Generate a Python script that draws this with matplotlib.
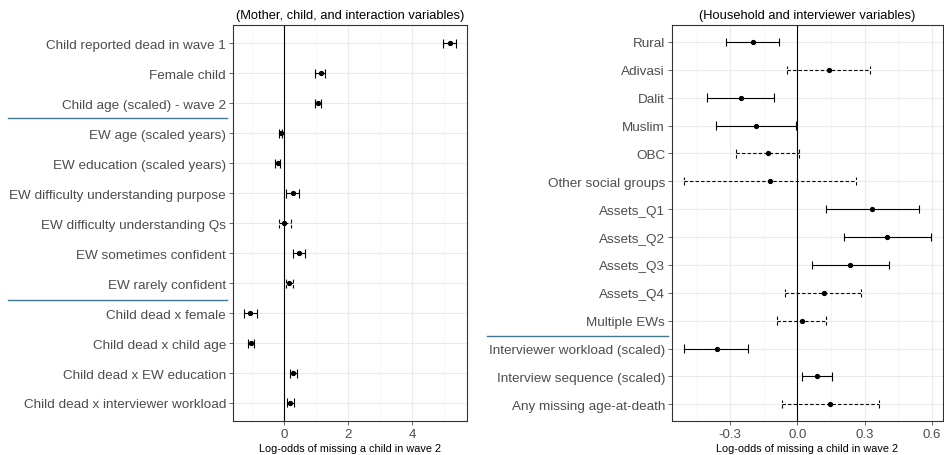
import numpy as np
import matplotlib.pyplot as plt
from matplotlib.lines import Line2D

plt.rcParams['font.family'] = ['Liberation Sans', 'DejaVu Sans']

# left panel: mother, child and interaction variables
left_labels = ['Child reported dead in wave 1', 'Female child', 'Child age (scaled) - wave 2',
               'EW age (scaled years)', 'EW education (scaled years)',
               'EW difficulty understanding purpose', 'EW difficulty understanding Qs',
               'EW sometimes confident', 'EW rarely confident',
               'Child dead x female', 'Child dead x child age',
               'Child dead x EW education', 'Child dead x interviewer workload']
left_est = [5.19, 1.15, 1.05, -0.10, -0.20, 0.27, 0.00, 0.48, 0.15, -1.07, -1.03, 0.27, 0.19]
left_lo = [4.96, 0.97, 0.95, -0.17, -0.27, 0.06, -0.15, 0.27, 0.06, -1.26, -1.14, 0.18, 0.08]
left_hi = [5.37, 1.29, 1.15, -0.06, -0.12, 0.48, 0.21, 0.66, 0.29, -0.85, -0.94, 0.39, 0.30]
left_sig = [1, 1, 1, 1, 1, 1, 0, 1, 0, 1, 1, 1, 1]

# right panel: household and interviewer variables
right_labels = ['Rural', 'Adivasi', 'Dalit', 'Muslim', 'OBC', 'Other social groups',
                'Assets_Q1', 'Assets_Q2', 'Assets_Q3', 'Assets_Q4', 'Multiple EWs',
                'Interviewer workload (scaled)', 'Interview sequence (scaled)',
                'Any missing age-at-death']
right_est = [-0.200, 0.141, -0.253, -0.186, -0.133, -0.121, 0.335, 0.400, 0.233, 0.117,
             0.019, -0.360, 0.089, 0.147]
right_lo = [-0.317, -0.045, -0.403, -0.363, -0.274, -0.506, 0.129, 0.210, 0.063, -0.054,
            -0.089, -0.505, 0.022, -0.069]
right_hi = [-0.083, 0.326, -0.103, -0.005, 0.006, 0.263, 0.543, 0.597, 0.409, 0.286,
            0.129, -0.220, 0.156, 0.364]
right_sig = [1, 0, 1, 1, 0, 0, 1, 1, 1, 0, 0, 1, 1, 0]


def draw_panel(ax, labels, est, lo, hi, sig, title, major, minor, xlim):
    n = len(labels)
    y = np.arange(n)[::-1]
    ax.set_xticks(major)
    ax.set_xticks(minor, minor=True)
    ax.set_yticks(y)
    ax.set_yticklabels(labels, fontsize=9.7, color='#4D4D4D')
    ax.grid(True, which='major', color='#EBEBEB', linewidth=0.8)
    ax.grid(True, which='minor', axis='x', color='#F2F2F2', linewidth=0.5)
    ax.set_axisbelow(True)
    ax.axvline(0, color='black', linewidth=0.8)
    for i in range(n):
        ls = '-' if sig[i] else (0, (3, 2))
        ax.hlines(y[i], lo[i], hi[i], color='black', linewidth=0.8, linestyles=ls)
        ax.vlines([lo[i], hi[i]], y[i] - 0.15, y[i] + 0.15, color='black',
                  linewidth=0.8, linestyles=ls)
    ax.plot(est, y, 'o', color='black', markersize=2.8)
    ax.set_xlim(*xlim)
    ax.set_ylim(-0.6, n - 1 + 0.6)
    ax.set_title(title, fontsize=9.3, pad=5)
    ax.set_xlabel('Log-odds of missing a child in wave 2', fontsize=7.8, labelpad=2)
    ax.tick_params(axis='x', labelsize=9.5, colors='#4D4D4D', length=3, width=0.6, pad=2)
    ax.tick_params(axis='x', which='minor', length=0)
    ax.tick_params(axis='y', length=3, width=0.6, color='#4D4D4D', pad=2)
    for s in ax.spines.values():
        s.set_color('#333333')
        s.set_linewidth(0.8)


fig = plt.figure(figsize=(9.44, 4.56), dpi=100)
ax1 = fig.add_axes([0.2468, 0.0746, 0.2479, 0.868])
ax2 = fig.add_axes([0.7119, 0.0746, 0.2870, 0.868])

draw_panel(ax1, left_labels, left_est, left_lo, left_hi, left_sig,
           '(Mother, child, and interaction variables)',
           [0, 2, 4], [-1, 1, 3, 5], (-1.6, 5.72))
ax1.set_xticklabels(['0', '2', '4'])
draw_panel(ax2, right_labels, right_est, right_lo, right_hi, right_sig,
           '(Household and interviewer variables)',
           [-0.3, 0.0, 0.3, 0.6], [-0.45, -0.15, 0.15, 0.45], (-0.56, 0.65))
ax2.set_xticklabels(['-0.3', '0.0', '0.3', '0.6'])

# separator lines between variable groups
sep_col = '#3F7690'
fig.add_artist(Line2D([8 / 944, 227 / 944], [1 - 119 / 456, 1 - 119 / 456], color=sep_col, linewidth=1))
fig.add_artist(Line2D([8 / 944, 227 / 944], [1 - 300.5 / 456, 1 - 300.5 / 456], color=sep_col, linewidth=1))
fig.add_artist(Line2D([487 / 944, 668 / 944], [1 - 337 / 456, 1 - 337 / 456], color=sep_col, linewidth=1))

fig.savefig('out.png', dpi=100)
